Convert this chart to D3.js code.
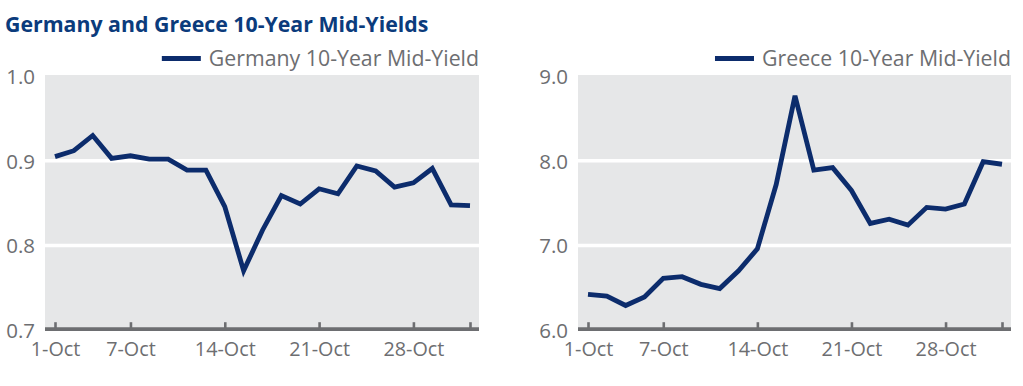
<!DOCTYPE html>
<html>
<head>
<meta charset="utf-8">
<script src="https://cdn.jsdelivr.net/npm/d3@7"></script>
<style>
  html, body { margin: 0; padding: 0; background: #ffffff; }
  svg { display: block; }
  text { font-family: "Open Sans", "Noto Sans", sans-serif; }
</style>
</head>
<body>
<svg id="chart" width="1023" height="386"></svg>
<script>
// ---- data ----
const title = "Germany and Greece 10-Year Mid-Yields";
const dates = ["1-Oct","2-Oct","3-Oct","6-Oct","7-Oct","8-Oct","9-Oct","10-Oct","13-Oct","14-Oct","15-Oct","16-Oct",
               "17-Oct","20-Oct","21-Oct","22-Oct","23-Oct","24-Oct","27-Oct","28-Oct","29-Oct","30-Oct","31-Oct"];
const germanyYield = [0.905,0.912,0.930,0.903,0.906,0.902,0.902,0.889,0.889,0.846,0.770,0.818,
                      0.859,0.849,0.867,0.861,0.894,0.888,0.869,0.874,0.891,0.848,0.847];
const greeceYield = [6.42,6.40,6.29,6.39,6.61,6.63,6.54,6.49,6.70,6.96,7.72,8.77,
                     7.89,7.92,7.65,7.26,7.31,7.24,7.45,7.43,7.49,7.99,7.96];
const tickDates = ["1-Oct","7-Oct","14-Oct","21-Oct","28-Oct","31-Oct"];
const tickLabels = ["1-Oct","7-Oct","14-Oct","21-Oct","28-Oct",""];
const germanyTicks = [0.7,0.8,0.9,1.0];
const greeceTicks = [6.0,7.0,8.0,9.0];
const germanyLabel = "Germany 10-Year Mid-Yield";
const greeceLabel = "Greece 10-Year Mid-Yield";

// ---- style ----
const lineColor = "#0c2c6c";
const textGray = "#6d6e71";
const bgGray = "#e6e7e8";
const titleColor = "#0b3b7c";
const fontStack = "\"Open Sans\", \"Noto Sans\", sans-serif";

const svg = d3.select("#chart");

svg.append("text")
  .attr("x", 5).attr("y", 32)
  .attr("fill", titleColor)
  .attr("font-weight", "bold")
  .attr("font-size", 21.3)
  .text(title);

function panel(cfg) {
  const g = svg.append("g");
  const x = d3.scalePoint().domain(dates).range([cfg.x0 + 10, cfg.x1 - 9]);
  const y = d3.scaleLinear().domain(cfg.domain).range([330, 76.3]);

  // background
  g.append("rect")
    .attr("x", cfg.x0).attr("y", 75)
    .attr("width", cfg.x1 - cfg.x0).attr("height", 330 - 75)
    .attr("fill", bgGray);

  // gridlines
  g.append("g").selectAll("line")
    .data(cfg.ticks.slice(1, -1))
    .join("line")
    .attr("x1", cfg.x0).attr("x2", cfg.x1)
    .attr("y1", d => y(d)).attr("y2", d => y(d))
    .attr("stroke", "#ffffff").attr("stroke-width", 3.5);

  // y labels
  const ya = g.append("g").attr("transform", `translate(${cfg.x0 - 10},0)`)
    .call(d3.axisLeft(y).tickValues(cfg.ticks).tickFormat(d3.format(".1f")).tickSize(0).tickPadding(0));
  ya.select(".domain").remove();
  ya.selectAll("text")
    .attr("fill", textGray)
    .attr("font-size", 20.5)
    .attr("font-family", fontStack)
    .attr("dy", "0.36em");

  // x axis
  const xa = g.append("g").attr("transform", "translate(0,329.2)")
    .call(d3.axisBottom(x).tickValues(tickDates)
      .tickFormat((d, i) => tickLabels[i]).tickSizeInner(-7).tickSizeOuter(0).tickPadding(0));
  xa.select(".domain").remove();
  xa.insert("line", ":first-child")
    .attr("x1", cfg.x0).attr("x2", cfg.x1)
    .attr("stroke", textGray).attr("stroke-width", 3.8);
  xa.selectAll(".tick line").attr("stroke", textGray).attr("stroke-width", 2.6);
  xa.selectAll(".tick text")
    .attr("fill", textGray)
    .attr("font-size", 19.8)
    .attr("font-family", fontStack)
    .attr("y", 26.5).attr("dy", 0);

  // line
  g.append("path")
    .datum(cfg.values)
    .attr("fill", "none")
    .attr("stroke", lineColor)
    .attr("stroke-width", 4.8)
    .attr("stroke-linejoin", "miter")
    .attr("d", d3.line().x((d, i) => x(dates[i])).y(d => y(d)));

  // legend
  const lt = g.append("text")
    .attr("x", cfg.x1).attr("y", 65.5)
    .attr("text-anchor", "end")
    .attr("fill", textGray)
    .attr("font-size", 21.3)
    .text(cfg.label);
  const w = lt.node().getComputedTextLength();
  g.append("line")
    .attr("x1", cfg.x1 - w - 47).attr("x2", cfg.x1 - w - 8)
    .attr("y1", 58.5).attr("y2", 58.5)
    .attr("stroke", lineColor).attr("stroke-width", 4.8);
}

panel({x0: 45, x1: 479, domain: [0.7, 1.0], ticks: germanyTicks, values: germanyYield, label: germanyLabel});
panel({x0: 578, x1: 1011, domain: [6.0, 9.0], ticks: greeceTicks, values: greeceYield, label: greeceLabel});
</script>
</body>
</html>
